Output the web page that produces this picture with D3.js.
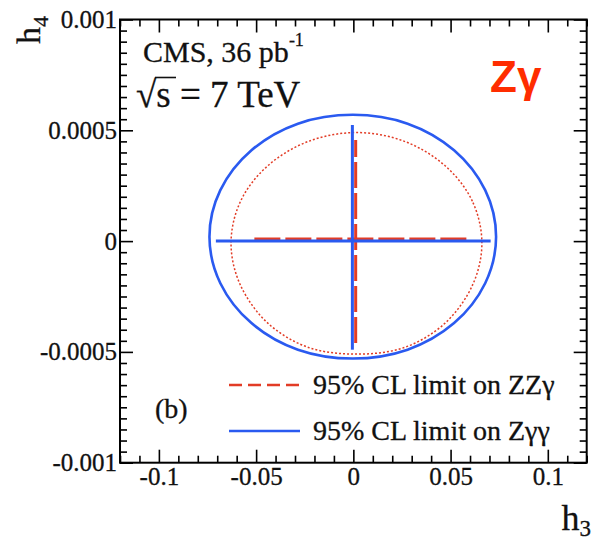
<!DOCTYPE html>
<html>
<head>
<meta charset="utf-8">
<script src="https://cdn.jsdelivr.net/npm/d3@7"></script>
<style>
body { margin:0; background:#fff; }
</style>
</head>
<body>
<div id="chart-area"></div>
<script>
// data
const xTicks = [-0.1, -0.05, 0, 0.05, 0.1];
const xTickLabels = ["-0.1", "-0.05", "0", "0.05", "0.1"];
const yTicks = [-0.001, -0.0005, 0, 0.0005, 0.001];
const yTickLabels = ["-0.001", "-0.0005", "0", "0.0005", "0.001"];

// 2D 95% CL contour, Zgg (blue), points [h3, h4]
const zggContour = [
  [0.0734, 0.00002], [0.0678, 0.00023], [0.0518, 0.00041], [0.0279, 0.00053],
  [-0.0003, 0.00057], [-0.0285, 0.00053], [-0.0524, 0.00041], [-0.0684, 0.00023],
  [-0.0740, 0.00002], [-0.0684, -0.00019], [-0.0524, -0.00037], [-0.0285, -0.00049],
  [-0.0003, -0.00053], [0.0279, -0.00049], [0.0518, -0.00037], [0.0678, -0.00019]
];
// 2D 95% CL contour, ZZg (red dotted)
const zzgContour = [
  [0.0661, -0.00001], [0.0612, 0.00018], [0.0472, 0.00034], [0.0263, 0.00045],
  [0.0016, 0.00049], [-0.0231, 0.00045], [-0.0440, 0.00034], [-0.0580, 0.00018],
  [-0.0629, -0.00001], [-0.0580, -0.00020], [-0.0440, -0.00037], [-0.0231, -0.00048],
  [0.0016, -0.00051], [0.0263, -0.00048], [0.0472, -0.00037], [0.0612, -0.00020]
];
// 1D limits [from, to] and where they are drawn
const zggH3Limit = [-0.0707, 0.0706], zggH3At = 0;
const zggH4Limit = [-0.00049, 0.000524], zggH4At = -0.0005;
const zzgH3Limit = [-0.0509, 0.0586], zzgH3At = 0.00001;
const zzgH4Limit = [-0.00046, 0.000456], zzgH4At = 0.0012;

const legendLabels = ["95% CL limit on ZZγ", "95% CL limit on Zγγ"];

const red = "#e23c26", blue = "#2a5af0";
const serif = "'Liberation Serif', 'Times New Roman', serif";

const margin = {top: 19.5, left: 120},
  width = 466.7,
  height = 443.2;

const svg = d3.select("#chart-area")
  .append("svg")
  .attr("width", 605)
  .attr("height", 544);

const g = svg.append("g")
  .attr("transform", "translate(" + margin.left + "," + margin.top + ")");

const x = d3.scaleLinear().domain([-0.12, 0.12]).range([0, width]);
const y = d3.scaleLinear().domain([-0.001, 0.001]).range([height, 0]);

// minor ticks
const xMinor = d3.range(-12, 13).map(d => d / 100).filter(d => Math.abs(Math.round(d * 100) % 5) != 0);
const yMinor = d3.range(-20, 21).map(d => d / 20000).filter(d => Math.abs(Math.round(d * 20000) % 10) != 0);

function axes(axisFn, scale, major, minor, labels, tr) {
  const a = g.append("g").attr("transform", tr)
    .call(axisFn(scale).tickValues(major).tickSize(-13).tickPadding(labels ? 5 : 0)
      .tickFormat((d, i) => labels ? labels[i] : ""));
  a.call(s => s.select(".domain").remove());
  a.selectAll("line").attr("stroke", "#000").attr("stroke-width", 1.6);
  a.selectAll("text").attr("font-family", serif).attr("font-size", "25px").attr("fill", "#111")
    .attr("stroke", "#111").attr("stroke-width", 0.3);
  const b = g.append("g").attr("transform", tr)
    .call(axisFn(scale).tickValues(minor).tickSize(-7).tickFormat(""));
  b.call(s => s.select(".domain").remove());
  b.selectAll("line").attr("stroke", "#000").attr("stroke-width", 1.6);
  return a;
}

axes(d3.axisBottom, x, xTicks, xMinor, xTickLabels, "translate(0," + height + ")");
axes(d3.axisTop, x, xTicks, xMinor, null, "translate(0,0)");
axes(d3.axisLeft, y, yTicks, yMinor, yTickLabels, "translate(0,0)").selectAll("text").attr("dx", "2px");
axes(d3.axisRight, y, yTicks, yMinor, null, "translate(" + width + ",0)");

g.append("rect")
  .attr("width", width).attr("height", height)
  .attr("fill", "none").attr("stroke", "#000").attr("stroke-width", 2);

// contours
const contour = d3.line().x(d => x(d[0])).y(d => y(d[1])).curve(d3.curveCardinalClosed.tension(0));

g.append("path")
  .attr("d", contour(zzgContour))
  .attr("fill", "none").attr("stroke", red).attr("stroke-width", 1.5)
  .attr("stroke-dasharray", "2,2");

g.append("path")
  .attr("d", contour(zggContour))
  .attr("fill", "none").attr("stroke", blue).attr("stroke-width", 2.6);

// 1D limits
function seg(xs, ys, colour, dash) {
  g.append("line")
    .attr("x1", x(xs[0])).attr("x2", x(xs[1]))
    .attr("y1", y(ys[0])).attr("y2", y(ys[1]))
    .attr("stroke", colour).attr("stroke-width", 3)
    .attr("stroke-dasharray", dash);
}
seg(zzgH3Limit, [zzgH3At, zzgH3At], red, "26,5");
seg([zzgH4At, zzgH4At], zzgH4Limit, red, "26,5");
seg(zggH3Limit, [zggH3At, zggH3At], blue, null);
seg([zggH4At, zggH4At], zggH4Limit, blue, null);

// legend
const leg = svg.append("g");
legendLabels.forEach((lab, i) => {
  const ly = 385 + i * 46;
  leg.append("line")
    .attr("x1", 229).attr("x2", 300).attr("y1", ly).attr("y2", ly)
    .attr("stroke", i == 0 ? red : blue).attr("stroke-width", 2.6)
    .attr("stroke-dasharray", i == 0 ? "13,6" : null);
  leg.append("text")
    .attr("x", 313).attr("y", ly + 9)
    .attr("font-family", serif).attr("font-size", "28px").attr("fill", "#111")
    .attr("stroke", "#111").attr("stroke-width", 0.3)
    .text(lab);
});

svg.append("text")
  .attr("x", 155).attr("y", 418)
  .attr("font-family", serif).attr("font-size", "28px").attr("fill", "#111")
  .attr("stroke", "#111").attr("stroke-width", 0.3)
  .text("(b)");

// CMS labels
const cms = svg.append("text")
  .attr("x", 143).attr("y", 62)
  .attr("font-family", serif).attr("font-size", "30px").attr("fill", "#111")
  .attr("stroke", "#111").attr("stroke-width", 0.3);
cms.append("tspan").text("CMS, 36 pb");
cms.append("tspan").attr("dy", -16).attr("font-size", "18px").text("-1");

svg.append("text")
  .attr("x", 136).attr("y", 107)
  .attr("font-family", serif).attr("font-size", "37px").attr("fill", "#111")
  .attr("stroke", "#111").attr("stroke-width", 0.3)
  .text("√s = 7 TeV");
svg.append("line")
  .attr("x1", 155).attr("x2", 176).attr("y1", 77.5).attr("y2", 77.5)
  .attr("stroke", "#111").attr("stroke-width", 1.6);

svg.append("text")
  .attr("x", 490).attr("y", 92)
  .attr("font-family", "'Liberation Sans', Arial, sans-serif").attr("font-weight", "bold")
  .attr("font-size", "44px").attr("fill", "#ff2d00")
  .text("Zγ");

// axis titles
const yt = svg.append("text")
  .attr("transform", "translate(40,16) rotate(-90)")
  .attr("text-anchor", "end")
  .attr("font-family", serif).attr("font-size", "34px").attr("fill", "#111")
  .attr("stroke", "#111").attr("stroke-width", 0.3);
yt.append("tspan").text("h");
yt.append("tspan").attr("dy", 8).attr("font-size", "22px").text("4");

const xt = svg.append("text")
  .attr("x", 591).attr("y", 530)
  .attr("text-anchor", "end")
  .attr("font-family", serif).attr("font-size", "36px").attr("fill", "#111")
  .attr("stroke", "#111").attr("stroke-width", 0.3);
xt.append("tspan").text("h");
xt.append("tspan").attr("dy", 6).attr("font-size", "23px").text("3");
</script>
</body>
</html>
